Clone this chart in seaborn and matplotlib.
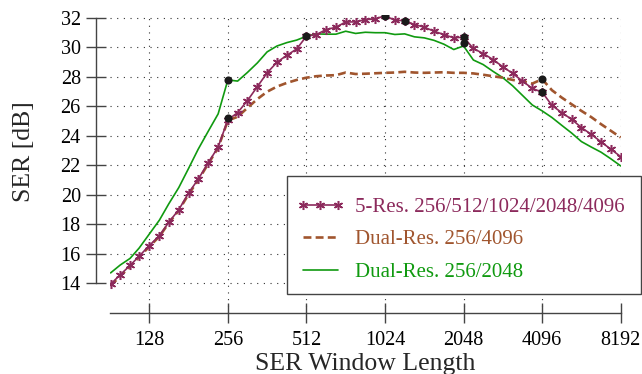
import numpy as np
import pandas as pd
import matplotlib
matplotlib.use('Agg')
from matplotlib import pyplot as plt
from matplotlib.ticker import NullLocator
from matplotlib.patches import Rectangle
import seaborn as sns

# window lengths (1/8 octave steps)
win = [91, 99, 108, 117,
       128, 140, 152, 166, 181, 197, 215, 235,
       256, 279, 304, 332, 362, 395, 431, 470,
       512, 558, 609, 664, 724, 790, 861, 939,
       1024, 1117, 1218, 1328, 1448, 1579, 1722, 1878,
       2048, 2233, 2435, 2656, 2896, 3158, 3444, 3756,
       4096, 4467, 4871, 5312, 5793, 6317, 6889, 7512,
       8192]

five_res = [13.95, 14.59, 15.22, 15.85, 16.57, 17.24, 18.15, 19.0, 20.13, 21.07, 22.16, 23.26,
            25.1, 25.58, 26.39, 27.34, 28.28, 29.0, 29.47, 29.9,
            30.76, 30.87, 31.21, 31.37, 31.73, 31.73, 31.89, 31.93,
            32.15, 31.84, 31.82, 31.55, 31.37, 31.1, 30.87, 30.65,
            30.7, 29.93, 29.59, 29.18, 28.69, 28.24, 27.72, 27.22,
            26.97, 26.07, 25.58, 25.13, 24.57, 24.11, 23.6, 23.1,
            22.6]

dual_4096 = [13.85, 14.5, 15.15, 15.8, 16.5, 17.2, 18.1, 18.95, 20.05, 21.0, 22.1, 23.2,
             25.05, 25.3, 25.9, 26.5, 27.0, 27.35, 27.6, 27.8,
             27.95, 28.05, 28.1, 28.12, 28.3, 28.2, 28.22, 28.25,
             28.28, 28.3, 28.35, 28.3, 28.28, 28.3, 28.32, 28.28,
             28.28, 28.24, 28.15, 28.05, 27.95, 27.8, 27.7, 27.55,
             27.85, 27.1, 26.6, 26.15, 25.7, 25.28, 24.8, 24.35,
             23.9]

dual_2048 = [14.72, 15.25, 15.7, 16.4, 17.35, 18.3, 19.4, 20.5, 21.8, 23.1, 24.3, 25.5,
             27.8, 27.72, 28.3, 28.95, 29.7, 30.1, 30.33, 30.5,
             30.76, 30.92, 30.9, 30.9, 31.1, 30.95, 31.03, 31.0,
             31.0, 30.88, 30.92, 30.72, 30.65, 30.48, 30.22, 29.86,
             30.1, 29.15, 28.84, 28.38, 27.95, 27.4, 26.75, 26.1,
             25.7, 25.25, 24.72, 24.2, 23.62, 23.25, 22.9, 22.45,
             21.97]

# switching points (black dots)
dot_x = [256, 256, 512, 1024, 1218, 2048, 2048, 4096, 4096]
dot_y = [27.8, 25.2, 30.76, 32.15, 31.82, 30.72, 30.31, 27.85, 26.97]

xticks = [128, 256, 512, 1024, 2048, 4096, 8192]
yticks = [14, 16, 18, 20, 22, 24, 26, 28, 30, 32]

labels = ['5-Res. 256/512/1024/2048/4096', 'Dual-Res. 256/4096', 'Dual-Res. 256/2048']
c_purple = '#8c2a5c'
c_brown = '#a0552e'
c_green = '#109a10'
axis_col = '#444444'

sns.set_theme(style='white')
plt.rcParams['font.family'] = ['Liberation Serif', 'DejaVu Serif']

df = pd.DataFrame({'win': win, 'five': five_res, 'd4096': dual_4096, 'd2048': dual_2048})

fig = plt.figure(figsize=(6.42, 3.74), dpi=100)
ax = fig.add_axes([110 / 642, 1 - 313 / 374, (620.7 - 110) / 642, (313 - 15) / 374])

sns.lineplot(data=df, x='win', y='d2048', color=c_green, lw=1.2, ax=ax, label=labels[2], zorder=2)
sns.lineplot(data=df, x='win', y='d4096', color=c_brown, lw=1.9, dashes=False, ax=ax,
             label=labels[1], zorder=3)
ax.lines[-1].set_dashes((3, 1.6))
sns.lineplot(data=df, x='win', y='five', color=c_purple, lw=1.2, ax=ax, label=labels[0],
             marker=(6, 2, 0), markersize=6.5, markeredgecolor=c_purple, markeredgewidth=1.1, zorder=4)
sns.scatterplot(x=dot_x, y=dot_y, color='k', s=34, linewidth=0, ax=ax, zorder=6)

ax.set_xscale('log', base=2)
ax.set_xlim(90.5, 8192)
ax.set_ylim(12, 32.2)
ax.set_xticks(xticks)
ax.set_xticklabels([str(t) for t in xticks])
ax.xaxis.set_minor_locator(NullLocator())
ax.set_yticks(yticks)
ax.set_xlabel('')
ax.set_ylabel('')

ax.grid(True, linestyle=(0, (1, 5)), lw=0.8, color='#333333')
for s in ['top', 'right']:
    ax.spines[s].set_visible(False)
ax.spines['left'].set_position(('outward', 10))
ax.spines['left'].set_bounds(14, 32)
for s in ['left', 'bottom']:
    ax.spines[s].set_color(axis_col)
    ax.spines[s].set_linewidth(1.0)
ax.tick_params(axis='both', bottom=True, left=True, direction='inout', length=14, width=1,
               color=axis_col, labelsize=14.5, labelcolor='black')
ax.tick_params(axis='y', pad=4)
ax.tick_params(axis='x', pad=6)

# legend box drawn separately so the entries can sit where the reference has them
box = Rectangle((287 / 642, 1 - 294 / 374), 354 / 642, 118 / 374, transform=fig.transFigure,
                facecolor='white', edgecolor=axis_col, lw=1.0, clip_on=False, zorder=9)
ax.add_patch(box)

handles, labs = ax.get_legend_handles_labels()
order = [labs.index(l) for l in labels]
leg = ax.legend([handles[i] for i in order], labels, loc='upper left',
                bbox_to_anchor=(287 / 642, 1 - 188 / 374), bbox_transform=fig.transFigure,
                borderaxespad=0, fontsize=15, frameon=False, handlelength=2.3,
                handletextpad=0.5, borderpad=0.45, labelspacing=0.62, numpoints=3)
leg.set_zorder(10)
for txt, ln in zip(leg.get_texts(), leg.get_lines()):
    txt.set_color(ln.get_color())

fig.text(365 / 642, 1 - 370 / 374, 'SER Window Length', ha='center', va='baseline', fontsize=18.5)
fig.text(24 / 642, 1 - 152 / 374, 'SER [dB]', ha='center', va='center', rotation=90, fontsize=18.5)

fig.savefig('out.png', dpi=100)
